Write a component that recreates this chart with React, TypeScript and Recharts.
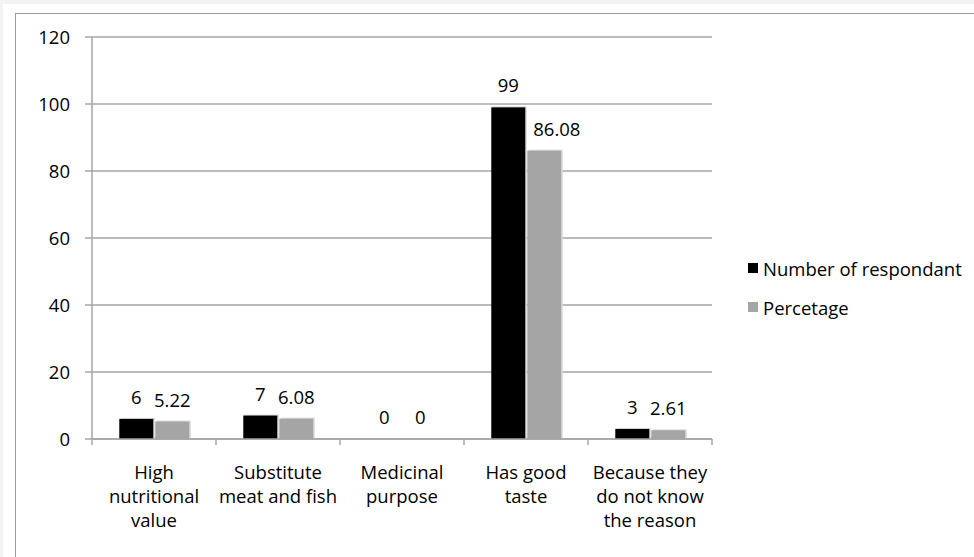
import { BarChart, Bar, XAxis, YAxis, CartesianGrid, LabelList } from 'recharts';

// Reasons for consumption
const categories = [
  'High\nnutritional\nvalue',
  'Substitute\nmeat and fish',
  'Medicinal\npurpose',
  'Has good\ntaste',
  'Because they\ndo not know\nthe reason',
];
const respondents = [6, 7, 0, 99, 3];
const percentage = [5.22, 6.08, 0, 86.08, 2.61];
const yTicks = [0, 20, 40, 60, 80, 100, 120];

const seriesNames = ['Number of respondant', 'Percetage'];
const seriesColors = ['#000000', '#a5a5a5'];

const FONT = '"Open Sans", sans-serif';
const FS = 18.5;
const GRID = '#a6a6a6';

const data = categories.map((name, i) => ({
  name,
  count: respondents[i],
  pct: percentage[i],
}));

const W = 974;
const H = 557;
const MARGIN = { top: 37, right: 262, bottom: 18, left: 0 };
const X_AXIS_H = 100;
const HALF_BAND = (W - 92 - MARGIN.right) / categories.length / 2;

const CategoryTick = (props: any) => {
  const { x, y, payload, index } = props;
  const lines = String(payload.value).split('\n');
  const top = y - 8;
  return (
    <g>
      <line x1={x - HALF_BAND} y1={top} x2={x - HALF_BAND} y2={top + 6} stroke={GRID} strokeWidth={1.5} />
      {index === categories.length - 1 && (
        <line x1={x + HALF_BAND} y1={top} x2={x + HALF_BAND} y2={top + 6} stroke={GRID} strokeWidth={1.5} />
      )}
      {lines.map((l, i) => (
        <text
          key={i}
          x={x}
          y={y + 32 + i * 24}
          textAnchor="middle"
          fontFamily={FONT}
          fontSize={FS}
          fill="#000"
        >
          {l}
        </text>
      ))}
    </g>
  );
};

const ShadowBar = (props: any) => {
  const { x, y, width, height, fill } = props;
  if (!height || height <= 0) return null;
  return (
    <g>
      <rect x={x + 1.5} y={y - 1} width={width} height={height + 1} fill="#dcdcdc" />
      <rect x={x} y={y} width={width} height={height} fill={fill} />
    </g>
  );
};

const makeLabel = (shiftIfCovered: boolean) => (props: any) => {
  const { x, y, width, value, index } = props;
  let tx = x + width / 2;
  let anchor: 'middle' | 'start' = 'middle';
  // move the percentage label off the taller neighbouring bar
  if (shiftIfCovered && respondents[index] - percentage[index] > 6) {
    tx = x + 6;
    anchor = 'start';
  }
  return (
    <text x={tx} y={y - 15} textAnchor={anchor} fontFamily={FONT} fontSize={FS} fill="#000">
      {value}
    </text>
  );
};

export default function App() {
  return (
    <div
      style={{
        position: 'fixed',
        left: 0,
        top: 0,
        width: W,
        height: H,
        overflow: 'hidden',
        background: '#f2f3f5',
      }}
    >
      <div style={{ position: 'absolute', left: 3, top: 4, right: 0, bottom: 0, background: '#fff' }} />
      <div
        style={{
          position: 'absolute',
          left: 15,
          top: 13,
          width: 1000,
          height: 600,
          border: '1.5px solid #9a9a9a',
          boxShadow: '1px 1px 0 #d0d0d0',
        }}
      />
      <div style={{ position: 'absolute', left: 0, top: 0 }}>
        <BarChart
          width={W}
          height={H}
          data={data}
          margin={MARGIN}
          barCategoryGap="22%"
          barGap={2}
        >
          <CartesianGrid vertical={false} stroke={GRID} strokeWidth={1.5} />
          <XAxis
            dataKey="name"
            interval={0}
            height={X_AXIS_H}
            tickLine={false}
            tickSize={6}
            tickMargin={2}
            axisLine={{ stroke: GRID, strokeWidth: 1.5 }}
            tick={<CategoryTick />}
          />
          <YAxis
            width={92}
            domain={[0, 120]}
            ticks={yTicks}
            interval={0}
            tickSize={7}
            tickMargin={15}
            tickLine={{ stroke: GRID, strokeWidth: 1.5 }}
            axisLine={{ stroke: GRID, strokeWidth: 1.5 }}
            tick={{ fontFamily: FONT, fontSize: FS, fill: '#000' }}
          />
          <Bar dataKey="count" name={seriesNames[0]} fill={seriesColors[0]} shape={<ShadowBar />} isAnimationActive={false}>
            <LabelList dataKey="count" content={makeLabel(false)} />
          </Bar>
          <Bar dataKey="pct" name={seriesNames[1]} fill={seriesColors[1]} shape={<ShadowBar />} isAnimationActive={false}>
            <LabelList dataKey="pct" content={makeLabel(true)} />
          </Bar>
        </BarChart>
      </div>
      <div style={{ position: 'absolute', left: 748, top: 255, fontFamily: FONT, fontSize: FS, color: '#000' }}>
        {seriesNames.map((n, i) => (
          <div key={n} style={{ display: 'flex', alignItems: 'center', height: 26, marginBottom: 13 }}>
            <span
              style={{ width: 10, height: 10, background: seriesColors[i], marginRight: 5, display: 'inline-block' }}
            />
            <span style={{ whiteSpace: 'nowrap' }}>{n}</span>
          </div>
        ))}
      </div>
    </div>
  );
}
